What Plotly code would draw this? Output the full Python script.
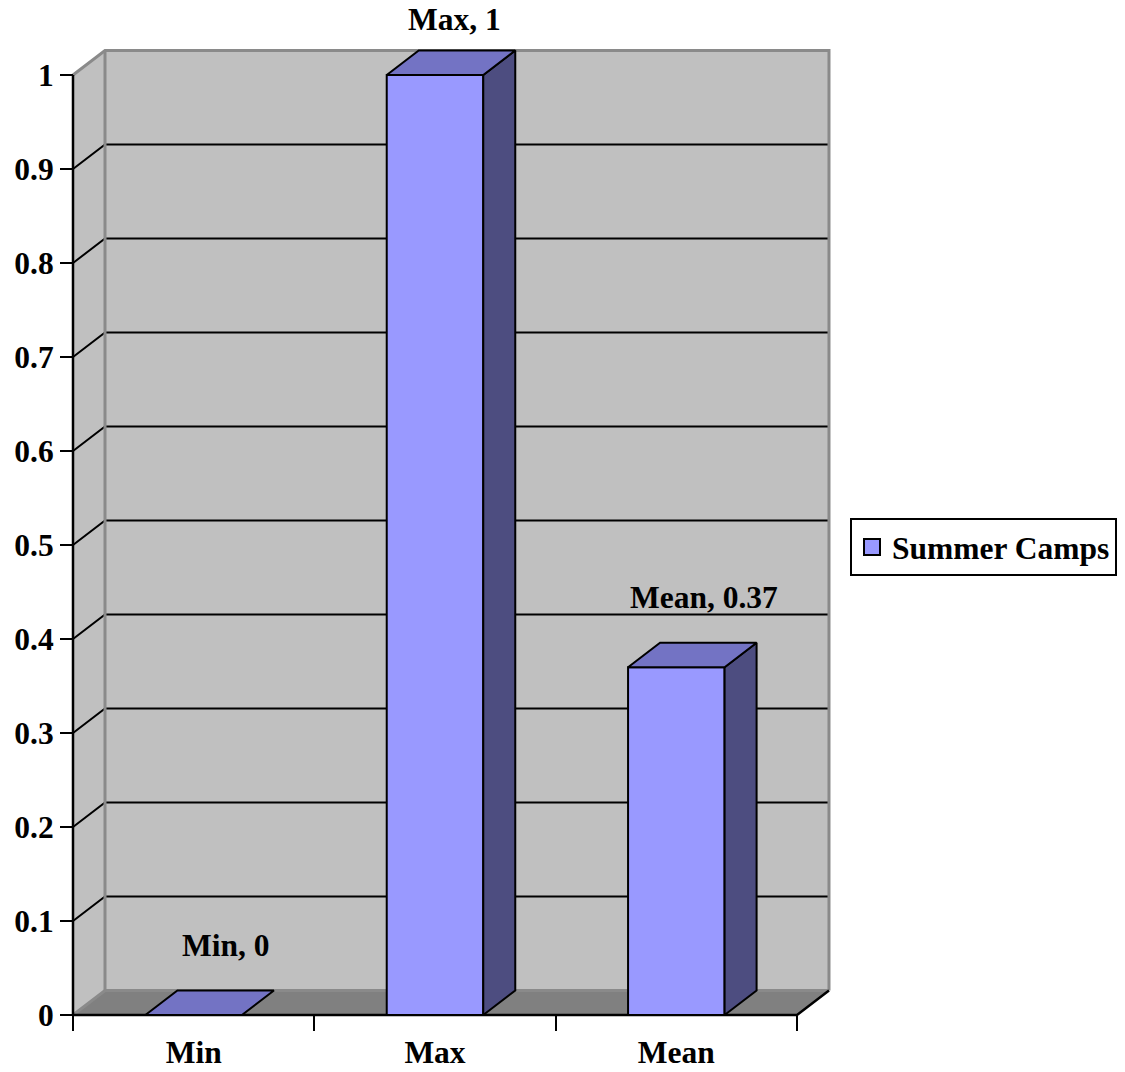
import plotly.graph_objects as go

# ---------------- data ----------------
categories = ["Min", "Max", "Mean"]
values = [0, 1, 0.37]
series_name = "Summer Camps"
y_ticks = [0, 0.1, 0.2, 0.3, 0.4, 0.5, 0.6, 0.7, 0.8, 0.9, 1]
y_tick_labels = ["0", "0.1", "0.2", "0.3", "0.4", "0.5", "0.6", "0.7", "0.8", "0.9", "1"]

# ---------------- style / geometry ----------------
W, H = 1125, 1072
ML, MR, MT, MB = 66, 290, 44, 52
PX_X = 241.33          # pixels per category unit
PX_Y = 940.0           # pixels per value unit
X_PAD = 7              # px between plot-area left and value axis
Y_PAD = 5              # px between plot-area bottom and floor front edge
BAR_W = 0.4
DX = 32 / PX_X         # 3-D depth offset (x)
DY = 24.5 / PX_Y       # 3-D depth offset (y)

FONT = "Liberation Serif"
FS = 31.5
WALL = "#C0C0C0"
FLOOR = "#808080"
EDGE = "#8A8A8A"
FRONT = "#9999FF"
TOP = "#7373C4"
SIDE = "#4D4D80"

n = len(categories)
xmin = -0.5 - X_PAD / PX_X
xmax = xmin + (W - ML - MR) / PX_X
ymin = -Y_PAD / PX_Y
ymax = ymin + (H - MT - MB) / PX_Y
L, R = -0.5, n - 0.5
TOPV = max(y_ticks)

fig = go.Figure()


def poly(xs, ys, fill, line_color=None, line_w=0, xa="x", ya="y"):
    fig.add_trace(go.Scatter(
        x=xs, y=ys, mode="lines", fill="toself", fillcolor=fill,
        line=dict(color=line_color or fill, width=line_w),
        hoverinfo="skip", showlegend=False, xaxis=xa, yaxis=ya))


def lines(xs, ys, color, width, xa="x", ya="y"):
    fig.add_trace(go.Scatter(
        x=xs, y=ys, mode="lines", line=dict(color=color, width=width),
        hoverinfo="skip", showlegend=False, xaxis=xa, yaxis=ya))


# walls and floor (base subplot)
poly([L, L + DX, L + DX, L], [0, DY, TOPV + DY, TOPV], WALL)
poly([L + DX, R + DX, R + DX, L + DX], [DY, DY, TOPV + DY, TOPV + DY], WALL)
poly([L, R, R + DX, L + DX], [0, 0, DY, DY], FLOOR)

# gridlines on side + back wall
gx, gy = [], []
for t in y_ticks[1:-1]:
    gx += [L, L + DX, R + DX, None]
    gy += [t, t + DY, t + DY, None]
lines(gx, gy, "black", 2)

# grey wall edges
lines([L, L + DX, R + DX, R + DX, None, L + DX, L + DX, None, L, L + DX, R + DX],
      [TOPV, TOPV + DY, TOPV + DY, DY, None, TOPV + DY, DY, None, 0, DY, DY],
      EDGE, 3)

# value axis line and floor front edge
lines([L, L, None, L, R, R + DX], [TOPV, 0, None, 0, 0, DY], "black", 2.5)

# ---------------- bars (overlay subplot) ----------------
fig.add_trace(go.Bar(
    x=list(range(n)), y=values, width=BAR_W, name=series_name, showlegend=False,
    marker=dict(color=FRONT, line=dict(color="black", width=2)),
    xaxis="x2", yaxis="y2", hoverinfo="skip"))

tx, ty, sx, sy = [], [], [], []
for i, v in enumerate(values):
    a, b = i - BAR_W / 2, i + BAR_W / 2
    tx += [a, b, b + DX, a + DX, a, None]
    ty += [v, v, v + DY, v + DY, v, None]
    if v > 0:
        sx += [b, b + DX, b + DX, b, b, None]
        sy += [0, DY, v + DY, v, 0, None]
poly(sx, sy, SIDE, "black", 2, "x2", "y2")
poly(tx, ty, TOP, "black", 2, "x2", "y2")

# legend key for the series
fig.add_trace(go.Scatter(
    x=[None], y=[None], mode="markers", name=series_name,
    marker=dict(symbol="square", size=20, color=FRONT,
                line=dict(color="black", width=2)),
    xaxis="x2", yaxis="y2", hoverinfo="skip"))

# data labels
for i, (c, v) in enumerate(zip(categories, values)):
    fig.add_annotation(
        x=i + DX * (1.0 - 0.4 * v), y=v + DY, xref="x2", yref="y2",
        text=f"{c}, {v:g}", showarrow=False, yanchor="bottom",
        yshift=26 if v + DY < TOPV else 11,
        font=dict(family=FONT, size=FS, color="black", weight="bold"))

xpos = Y_PAD / (H - MT - MB)
ypos = X_PAD / (W - ML - MR)

fig.update_layout(
    width=W, height=H,
    margin=dict(l=ML, r=MR, t=MT, b=MB, autoexpand=False),
    paper_bgcolor="white", plot_bgcolor="white",
    font=dict(family=FONT, size=FS, color="black", weight="bold"),
    showlegend=True,
    legend=dict(x=(850 - ML) / (W - ML - MR), xanchor="left",
                y=(H - MB - 547) / (H - MT - MB), yanchor="middle",
                bordercolor="black", borderwidth=2, bgcolor="white",
                itemsizing="trace", tracegroupgap=0,
                font=dict(family=FONT, size=FS, color="black", weight="bold")),
    xaxis=dict(range=[xmin, xmax], anchor="free", position=xpos, automargin=False,
               tickvals=[i - 0.5 for i in range(n + 1)], ticks="outside",
               ticklen=15, tickwidth=2, tickcolor="black",
               showticklabels=False, showgrid=False, zeroline=False,
               showline=False, fixedrange=True),
    yaxis=dict(range=[ymin, ymax], anchor="free", position=ypos, automargin=False,
               tickvals=y_ticks, ticktext=y_tick_labels, ticks="outside",
               ticklen=13, tickwidth=2, tickcolor="black",
               showgrid=False, zeroline=False, showline=False, fixedrange=True),
    xaxis2=dict(range=[xmin, xmax], overlaying="x", anchor="free", position=xpos,
                automargin=False,
                tickvals=list(range(n)), ticktext=categories, ticks="outside",
                ticklen=5, tickcolor="rgba(0,0,0,0)", ticklabelstandoff=4,
                showgrid=False, zeroline=False, showline=False, fixedrange=True),
    yaxis2=dict(range=[ymin, ymax], overlaying="y", anchor="free", position=ypos,
                automargin=False, visible=False, fixedrange=True),
)

fig.write_html("out.html")
